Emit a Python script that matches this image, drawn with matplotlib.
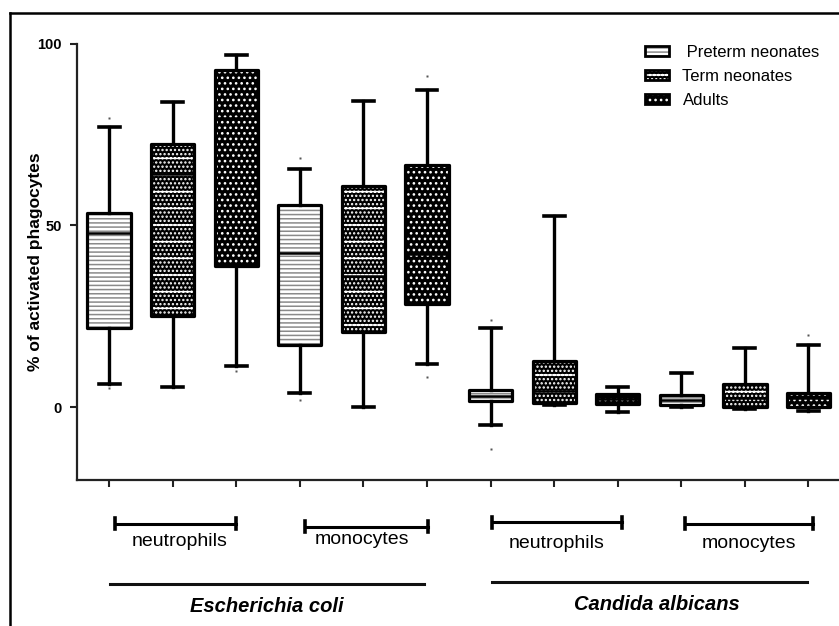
import matplotlib
matplotlib.use('Agg')
import matplotlib.pyplot as plt
from matplotlib.patches import Patch, Rectangle
from matplotlib.lines import Line2D

plt.rcParams['font.family'] = ['Liberation Sans', 'DejaVu Sans']
plt.rcParams['hatch.linewidth'] = 1.1

# ---------------- data ----------------
groups = [' Preterm neonates', 'Term neonates', 'Adults']
pathogens = ['Escherichia coli', 'Candida albicans']
cell_types = ['neutrophils', 'monocytes']

# 12 boxes: E.coli neutrophils (P,T,A), E.coli monocytes (P,T,A),
#           C.albicans neutrophils (P,T,A), C.albicans monocytes (P,T,A)
whisker_low = [6.3, 5.5, 11.3, 3.8, 0.0, 12.0, -4.9, 0.5, -1.2, 0.1, -0.6, -1.0]
q1 = [21.8, 25.1, 38.8, 17.0, 20.7, 28.5, 1.6, 1.2, 1.0, 0.7, 0.1, 0.1]
median = [47.8, 64.0, 79.4, 42.3, 36.0, 42.0, 3.1, 4.4, 2.4, 2.1, 2.5, 2.5]
q3 = [53.4, 72.3, 92.8, 55.7, 60.7, 66.5, 4.7, 12.7, 3.6, 3.5, 6.5, 3.9]
whisker_high = [77.0, 83.8, 96.9, 65.6, 84.2, 87.3, 21.9, 52.6, 5.6, 9.5, 16.4, 17.2]
extremes = [[5.3, 79.4], [], [9.9], [1.9, 68.4], [], [8.3, 91.2],
            [-11.5, 23.9], [], [], [], [], [19.8]]

yticks = [0, 50, 100]

# ---------------- figure ----------------
W, H = 839, 626
fig = plt.figure(figsize=(W / 100, H / 100), dpi=100)
fx = lambda x: x / W
fy = lambda y: 1 - y / H

ax = fig.add_axes([fx(77.3), fy(480), 1 - fx(77.3), (480 - 43.5) / H])
ax.set_xlim(-0.5, 11.48)
ax.set_ylim(-20, 100)

positions = list(range(12))
stats = []
for i in positions:
    stats.append(dict(whislo=whisker_low[i], q1=q1[i], med=median[i], q3=q3[i],
                      whishi=whisker_high[i], fliers=extremes[i]))

bw = 0.68
bp = ax.bxp(stats, positions=positions, widths=bw, capwidths=0.33,
            patch_artist=True, showfliers=True,
            boxprops=dict(linewidth=0),
            whiskerprops=dict(lw=2.4, color='black'),
            capprops=dict(lw=2.6, color='black'),
            medianprops=dict(color='black', lw=1.8, zorder=3.5),
            flierprops=dict(marker='s', markersize=1.6, markerfacecolor='#555',
                            markeredgecolor='none'))

styles = [dict(facecolor='white', edgecolor='#8a8a8a', hatch='----'),
          dict(facecolor='black', edgecolor='white', hatch='-....'),
          dict(facecolor='black', edgecolor='white', hatch='...')]

for i, box in enumerate(bp['boxes']):
    st = styles[i % 3]
    box.set_facecolor(st['facecolor'])
    box.set_edgecolor(st['edgecolor'])
    box.set_hatch(st['hatch'])
    box.set_linewidth(0)
    ax.add_patch(Rectangle((positions[i] - bw / 2, q1[i]), bw, q3[i] - q1[i],
                           fill=False, ec='black', lw=2.3, joinstyle='round', zorder=4))

# axes styling
for s in ['top', 'right']:
    ax.spines[s].set_visible(False)
for s in ['left', 'bottom']:
    ax.spines[s].set_linewidth(1.6)
    ax.spines[s].set_color('#222222')
ax.spines['left'].set_bounds(-20, 100)
ax.set_yticks(yticks)
ax.set_yticklabels([str(t) for t in yticks], fontsize=10.5, fontweight='bold')
ax.set_xticks(positions)
ax.set_xticklabels([])
ax.tick_params(axis='both', direction='out', length=5, width=1.5, color='#222222')
ax.tick_params(axis='y', pad=6)
ax.set_ylabel('% of activated phagocytes', fontsize=12.5, fontweight='bold')
ax.yaxis.set_label_coords((43 - 77.3) / (W - 77.3), 0.5)

# legend
handles = []
for st in styles:
    h1 = Patch(facecolor=st['facecolor'], edgecolor=st['edgecolor'], hatch=st['hatch'], lw=0)
    h2 = Patch(fill=False, edgecolor='black', lw=2)
    handles.append((h1, h2))
ax.legend(handles, groups, loc='upper left', bbox_to_anchor=(fx(645), fy(45)),
          bbox_transform=fig.transFigure, frameon=False, fontsize=12,
          borderpad=0, borderaxespad=0, handlelength=1.45, handleheight=0.55,
          handletextpad=0.8, labelspacing=0.55)

# group annotations below the axis
def bracket(x0, x1, y):
    fig.add_artist(Line2D([fx(x0), fx(x1)], [fy(y), fy(y)], lw=2.2, color='black'))
    for x in (x0, x1):
        fig.add_artist(Line2D([fx(x), fx(x)], [fy(y - 5.5), fy(y + 5.5)], lw=2.6, color='black'))

bracket(115, 236, 523.5)
bracket(305, 428, 526.5)
bracket(492, 622, 522)
bracket(685, 813, 523.5)

fig.text(fx(180), fy(542), cell_types[0], fontsize=14, ha='center', va='center')
fig.text(fx(362), fy(539), cell_types[1], fontsize=14, ha='center', va='center')
fig.text(fx(557), fy(543), cell_types[0], fontsize=14, ha='center', va='center')
fig.text(fx(749), fy(543), cell_types[1], fontsize=14, ha='center', va='center')

fig.add_artist(Line2D([fx(110), fx(424)], [fy(584), fy(584)], lw=2.2, color='#111111'))
fig.add_artist(Line2D([fx(492), fx(807)], [fy(582), fy(582)], lw=2.2, color='#111111'))
fig.text(fx(267), fy(606), pathogens[0], fontsize=14.5, fontweight='bold', style='italic',
         ha='center', va='center')
fig.text(fx(657), fy(604), pathogens[1], fontsize=14.5, fontweight='bold', style='italic',
         ha='center', va='center')

# outer frame (top and left edges visible)
fig.add_artist(Line2D([fx(10), 1], [fy(13), fy(13)], lw=1.8, color='black'))
fig.add_artist(Line2D([fx(10), fx(10)], [fy(13), 0], lw=1.8, color='black'))

fig.savefig('out.png', dpi=100)
